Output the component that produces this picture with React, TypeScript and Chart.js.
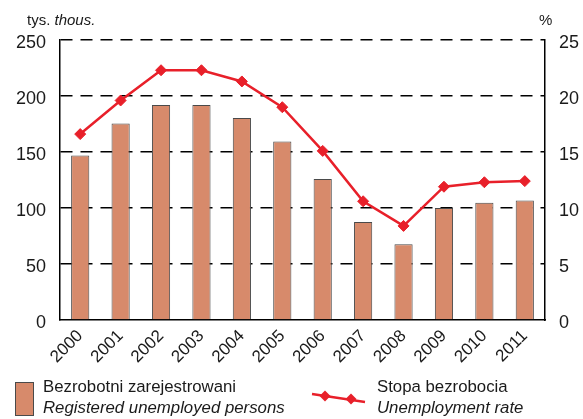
import React, { useEffect, useRef } from "react";
import { Chart, registerables } from "chart.js";

Chart.register(...registerables);

const years = ["2000", "2001", "2002", "2003", "2004", "2005", "2006", "2007", "2008", "2009", "2010", "2011"];
const registeredUnemployed = [146.8, 175.5, 192, 192, 180.3, 159.3, 126, 87.5, 67.6, 100, 104.7, 106.8];
const unemploymentRate = [16.6, 19.6, 22.3, 22.3, 21.3, 19.0, 15.1, 10.6, 8.4, 11.9, 12.3, 12.4];

const FONT = "'Liberation Sans', Arial, Helvetica, sans-serif";
const BAR_COLOR = "#d78a6b";
const BAR_BORDER = "#4a4a4a";
const RED = "#e8202a";
const TEXT = "#1a1a1a";

export default function App() {
  const canvasRef = useRef<HTMLCanvasElement | null>(null);

  useEffect(() => {
    const canvas = canvasRef.current;
    if (!canvas) return;
    const chart = new Chart(canvas, {
      type: "bar",
      data: {
        labels: years,
        datasets: [
          {
            type: "line",
            label: "Stopa bezrobocia",
            data: unemploymentRate,
            yAxisID: "y1",
            borderColor: RED,
            backgroundColor: RED,
            borderWidth: 2.5,
            pointStyle: "rectRot",
            pointRadius: 5.5,
            pointBackgroundColor: RED,
            pointBorderColor: RED,
            pointBorderWidth: 1,
            tension: 0,
            order: 0,
          } as any,
          {
            type: "bar",
            label: "Bezrobotni zarejestrowani",
            data: registeredUnemployed,
            yAxisID: "y",
            backgroundColor: BAR_COLOR,
            borderColor: BAR_BORDER,
            borderWidth: 1,
            barPercentage: 0.45,
            categoryPercentage: 1,
            order: 1,
          } as any,
        ],
      },
      options: {
        responsive: false,
        animation: false,
        layout: { padding: { top: 40, left: 0, right: 0, bottom: 0 } },
        plugins: {
          legend: { display: false },
          tooltip: { enabled: false },
        },
        scales: {
          x: {
            offset: true,
            grid: { display: false, drawTicks: false },
            border: { display: true, color: "#000", width: 1.5 },
            ticks: {
              font: { family: FONT, size: 17 },
              color: TEXT,
              minRotation: 45,
              maxRotation: 45,
              padding: 6,
              autoSkip: false,
            },
            afterFit: (s: any) => {
              s.height = 99;
            },
          },
          y: {
            position: "left",
            min: 0,
            max: 250,
            ticks: {
              stepSize: 50,
              font: { family: FONT, size: 18 },
              color: TEXT,
              padding: 14,
              labelOffset: 3,
            },
            grid: {
              drawTicks: false,
              lineWidth: 1.5,
              color: (ctx: any) => (ctx.tick && ctx.tick.value === 0 ? "rgba(0,0,0,0)" : "#000"),
            },
            border: { display: true, color: "#000", width: 1.5, dash: [12, 8] },
            afterFit: (s: any) => {
              s.width = 60;
            },
          },
          y1: {
            position: "right",
            min: 0,
            max: 25,
            ticks: {
              stepSize: 5,
              font: { family: FONT, size: 18 },
              color: TEXT,
              padding: 14,
              labelOffset: 3,
            },
            grid: { display: false, drawTicks: false },
            border: { display: true, color: "#000", width: 1.5 },
            afterFit: (s: any) => {
              s.width = 38;
            },
          },
        },
      } as any,
    });
    return () => chart.destroy();
  }, []);

  const textBase: React.CSSProperties = {
    position: "absolute",
    fontFamily: FONT,
    color: TEXT,
    whiteSpace: "nowrap",
    lineHeight: 1,
  };

  return (
    <div style={{ position: "fixed", left: 0, top: 0, width: 583, height: 419, background: "#fff", overflow: "hidden" }}>
      <canvas ref={canvasRef} width={583} height={419} style={{ position: "absolute", left: 0, top: 0, width: 583, height: 419 }} />
      <div style={{ ...textBase, left: 27, top: 12, fontSize: 15 }}>
        tys. <i>thous.</i>
      </div>
      <div style={{ ...textBase, left: 539, top: 12, fontSize: 15 }}>%</div>

      <div
        style={{
          position: "absolute",
          left: 15,
          top: 382,
          width: 19,
          height: 34,
          background: BAR_COLOR,
          border: `1px solid ${BAR_BORDER}`,
          boxSizing: "border-box",
        }}
      />
      <div style={{ ...textBase, left: 43, top: 379, fontSize: 16.8 }}>Bezrobotni zarejestrowani</div>
      <div style={{ ...textBase, left: 43, top: 400, fontSize: 16.8, fontStyle: "italic" }}>
        Registered unemployed persons
      </div>

      <svg style={{ position: "absolute", left: 0, top: 0 }} width={583} height={419}>
        <line x1={312} y1={394} x2={365} y2={402} stroke={RED} strokeWidth={2.5} />
        <polygon points="325,390.5 330.5,396 325,401.5 319.5,396" fill={RED} />
        <polygon points="351,393.5 356.5,399 351,404.5 345.5,399" fill={RED} />
      </svg>
      <div style={{ ...textBase, left: 377, top: 379, fontSize: 16.8 }}>Stopa bezrobocia</div>
      <div style={{ ...textBase, left: 377, top: 400, fontSize: 16.8, fontStyle: "italic" }}>Unemployment rate</div>
    </div>
  );
}
